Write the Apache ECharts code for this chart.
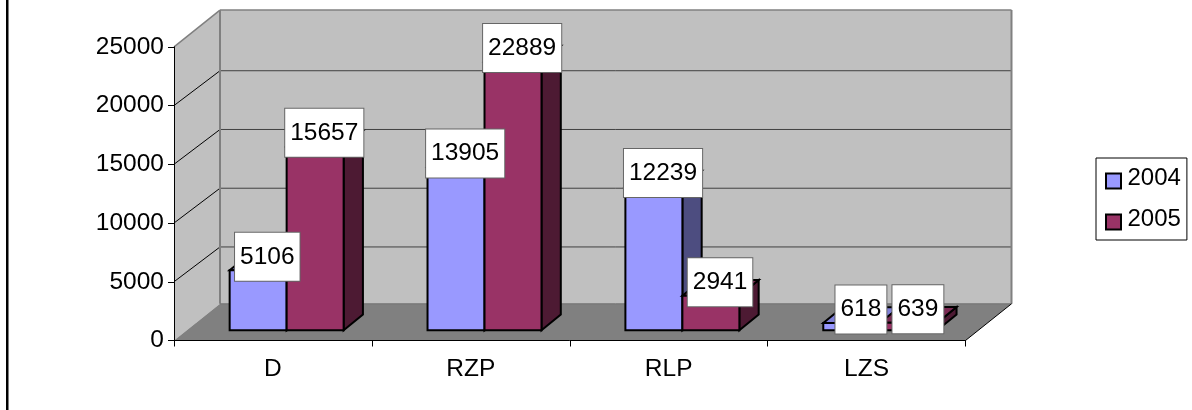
<!DOCTYPE html>
<html>
<head>
<meta charset="utf-8">
<style>html,body{margin:0;padding:0;background:#fff}#chart{width:1192px;height:410px}</style>
<script src="https://cdn.jsdelivr.net/npm/echarts@6/dist/echarts.min.js"></script>
</head>
<body>
<div id="chart"></div>
<script>
// Party totals for two years
const categories = ['D', 'RZP', 'RLP', 'LZS'];
const values2004 = [5106, 13905, 12239, 618];
const values2005 = [15657, 22889, 2941, 639];
const yTicks = [0, 5000, 10000, 15000, 20000, 25000];

// Oblique projection of the box: full depth of the room, rise of a gridline
// across the side wall, offset of a bar's front face from the front of the
// floor, and the depth of a bar
const ROOM = [46, -36.7];
const GRID_RISE = -34.8;
const BAR_SHIFT = [13.7, -10.2];
const BAR_DEPTH = [19.3, -15.7];
const BAR_BAND_RATIO = 0.288;
const EDGE_WIDTH = 2;
const FONT = '"Liberation Sans", Arial, sans-serif';
const FONT_SIZE = 24.5;

const shapes = {
  poly: (points, fill, stroke, lineWidth) => ({
    type: 'polygon',
    shape: { points },
    style: { fill, stroke: stroke || null, lineWidth: lineWidth || 0, lineJoin: 'miter' }
  }),
  line: (a, b, stroke, lineWidth) => ({
    type: 'line',
    shape: { x1: a[0], y1: a[1], x2: b[0], y2: b[1] },
    style: { stroke, lineWidth }
  })
};

// Left wall, back wall, floor and the gridlines that run around them
function renderRoom(params, api) {
  const c = params.coordSys;
  const L = c.x, R = c.x + c.width, T = c.y, B = c.y + c.height;
  const [dx, dy] = ROOM;
  const grey = '#808080';
  const kids = [
    shapes.poly([[L, T], [L + dx, T + dy], [L + dx, B + dy], [L, B]], '#C0C0C0'),
    shapes.poly([[L + dx, T + dy], [R + dx, T + dy], [R + dx, B + dy], [L + dx, B + dy]], '#C0C0C0'),
    shapes.poly([[L, B], [R, B], [R + dx, B + dy], [L + dx, B + dy]], '#808080')
  ];
  yTicks.slice(1, -1).forEach(t => {
    const y = api.coord([0, t])[1];
    kids.push(shapes.line([L, y], [L + dx, y + GRID_RISE], '#000', 1));
    kids.push(shapes.line([L + dx, y + GRID_RISE], [R + dx, y + GRID_RISE], '#404040', 1));
  });
  kids.push(shapes.line([L, T], [L + dx, T + dy], grey, 1.5));
  kids.push(shapes.line([L + dx, T + dy], [R + dx, T + dy], grey, 1.5));
  kids.push(shapes.line([L + dx, T + dy], [L + dx, B + dy], grey, 2));
  kids.push(shapes.line([R + dx, T + dy], [R + dx, B + dy], grey, 2));
  kids.push(shapes.line([L + dx, B + dy], [R + dx, B + dy], '#707070', 1));
  kids.push(shapes.line([R, B], [R + dx, B + dy], '#000', 1));
  return { type: 'group', children: kids };
}

// Screen corners of a bar's front face, slot -1 or +1 either side of the band centre
function barFront(api, slot) {
  const cat = api.value(0), val = api.value(1);
  const top = api.coord([cat, val]);
  const base = api.coord([cat, 0]);
  const w = api.size([1, 0])[0] * BAR_BAND_RATIO;
  const x0 = top[0] + BAR_SHIFT[0] + (slot < 0 ? -w : 0);
  return { x0, x1: x0 + w, yTop: top[1] + BAR_SHIFT[1], yBase: base[1] + BAR_SHIFT[1] };
}

function barRenderer(slot, front, side, lid) {
  return function (params, api) {
    const { x0, x1, yTop, yBase } = barFront(api, slot);
    const [dx, dy] = BAR_DEPTH;
    const edge = '#000';
    return {
      type: 'group',
      children: [
        shapes.poly([[x1, yBase], [x1 + dx, yBase + dy], [x1 + dx, yTop + dy], [x1, yTop]], side, edge, EDGE_WIDTH),
        shapes.poly([[x0, yTop], [x1, yTop], [x1 + dx, yTop + dy], [x0 + dx, yTop + dy]], lid, edge, EDGE_WIDTH),
        shapes.poly([[x0, yBase], [x1, yBase], [x1, yTop], [x0, yTop]], front, edge, EDGE_WIDTH)
      ]
    };
  };
}

// White value boxes, centred over the bar's top face
function labelRenderer(slot) {
  return function (params, api) {
    const { x0, x1, yTop } = barFront(api, slot);
    return {
      type: 'text',
      x: (x0 + x1) / 2 + BAR_DEPTH[0] / 2 - 0.5,
      y: yTop - 13.5,
      style: {
        text: String(api.value(1)),
        font: FONT_SIZE + 'px ' + FONT,
        fill: '#000',
        align: 'center',
        verticalAlign: 'middle',
        lineHeight: 28,
        backgroundColor: '#fff',
        borderColor: '#666',
        borderWidth: 1,
        padding: [10, 5, 10, 5]
      }
    };
  };
}

const pairs = list => list.map((v, i) => [i, v]);

const chart = echarts.init(document.getElementById('chart'), null, { renderer: 'canvas' });
chart.setOption({
  animation: false,
  backgroundColor: '#fff',
  textStyle: { fontFamily: FONT },
  grid: { left: 174, top: 46.8, width: 791.5, height: 293.7, containLabel: false },
  xAxis: {
    type: 'category',
    data: categories,
    z: 10,
    axisLine: { lineStyle: { color: '#000', width: 1 } },
    axisTick: { show: true, alignWithLabel: false, length: 6, lineStyle: { color: '#000' } },
    axisLabel: { color: '#000', fontSize: FONT_SIZE, fontFamily: FONT, margin: 16.5 },
    splitLine: { show: false }
  },
  yAxis: {
    type: 'value',
    min: 0,
    max: 25000,
    interval: 5000,
    z: 10,
    axisLine: { show: true, lineStyle: { color: '#000', width: 1 } },
    axisTick: { show: true, length: 6, lineStyle: { color: '#000' } },
    axisLabel: { color: '#000', fontSize: FONT_SIZE, fontFamily: FONT, margin: 10, formatter: v => String(v) },
    splitLine: { show: false }
  },
  legend: {
    left: 1096,
    top: 158,
    orient: 'vertical',
    data: ['2004', '2005'],
    backgroundColor: '#fff',
    borderColor: '#000',
    borderWidth: 1,
    padding: [8, 6, 3, 9],
    itemWidth: 15,
    itemHeight: 15,
    itemGap: 11,
    icon: 'rect',
    selectedMode: false,
    formatter: '{year|{name}}',
    textStyle: {
      color: '#000', fontSize: 24, fontFamily: FONT,
      rich: { year: { fontSize: 24, fontFamily: FONT, color: '#000', lineHeight: 24, padding: [0, 0, 6, 1.5] } }
    }
  },
  graphic: [{
    type: 'rect',
    shape: { x: 6, y: 0, width: 2.5, height: 410 },
    style: { fill: '#000' }
  }],
  series: [
    { type: 'custom', name: 'room', data: [[0, 0]], z: 1, silent: true, renderItem: renderRoom },
    {
      type: 'custom', name: '2004', data: pairs(values2004), z: 3,
      itemStyle: { color: '#9999FF', borderColor: '#000', borderWidth: 2 },
      renderItem: barRenderer(-1, '#9999FF', '#4D4D80', '#8080D8')
    },
    {
      type: 'custom', name: '2005', data: pairs(values2005), z: 4,
      itemStyle: { color: '#993366', borderColor: '#000', borderWidth: 2 },
      renderItem: barRenderer(1, '#993366', '#4D1A33', '#7A2952')
    },
    { type: 'custom', name: 'labels2004', data: pairs(values2004), z: 5, renderItem: labelRenderer(-1) },
    { type: 'custom', name: 'labels2005', data: pairs(values2005), z: 6, renderItem: labelRenderer(1) }
  ]
});
</script>
</body>
</html>
